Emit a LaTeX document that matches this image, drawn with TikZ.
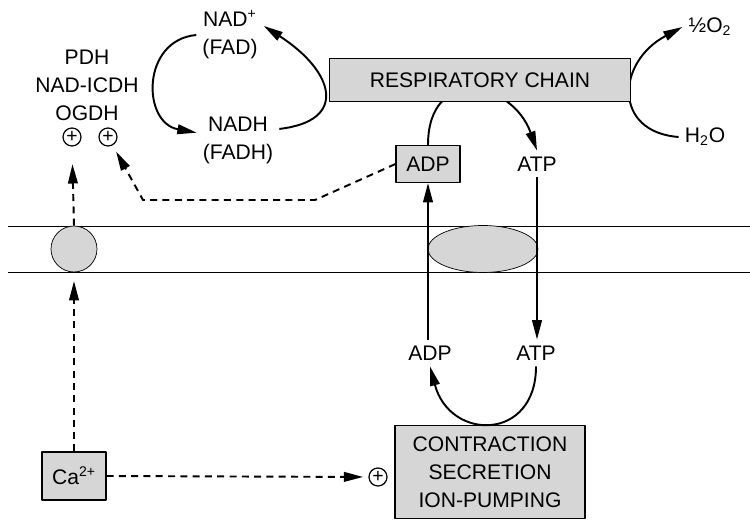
\documentclass[tikz,border=0pt]{standalone}
\usepackage{fontspec}
\setmainfont{Liberation Sans}
\usetikzlibrary{arrows.meta,shapes.geometric}
\begin{document}
\begin{tikzpicture}[x=0.02cm, y=0.02cm, font=\fontsize{12}{16}\selectfont, line join=round, >={Triangle[length=11pt,width=5.5pt]},
		arr/.style={->, line width=1.1pt},
		dsh/.style={->, line width=1.1pt, dash pattern=on 4pt off 3pt},
		grey/.style={draw, line width=0.6pt, fill=black!16},
		plus/.style={circle, draw, line width=0.7pt, inner sep=0pt, minimum size=0.36cm, font=\fontsize{11}{11}\selectfont}]
		\useasboundingbox (0,0) rectangle (750,520);
		% membrane
		\draw[thin] (8,294) -- (750,294) (8,248) -- (750,248);
		\node[grey, thin, circle, minimum size=0.92cm] (chan) at (74,271) {};
		\node[grey, thin, ellipse, minimum width=2.2cm, minimum height=0.94cm] (carrier) at (483,271) {};
		% labels
		\node[align=center] (enz) at (87,435) {PDH\\NAD-ICDH\\OGDH};
		\node[align=center] (nad) at (230,485) {NAD\textsuperscript{+}\\(FAD)};
		\node[align=center] (nadh) at (238,380) {NADH\\(FADH)};
		\node (o2) at (710,493) {½O\textsubscript{2}};
		\node (h2o) at (705,383) {H\textsubscript{2}O};
		\node[grey, minimum width=1.28cm, minimum height=0.74cm] (adp) at (428,356) {ADP};
		\node (atp) at (537,356) {ATP};
		\node (adp2) at (430,167) {ADP};
		\node (atp2) at (536,167) {ATP};
		\node[grey, align=center, minimum width=3.8cm, minimum height=1.86cm] (work) at (490,48) {CONTRACTION\\SECRETION\\ION-PUMPING};
		\node[grey, minimum width=1.28cm, minimum height=0.96cm] (ca) at (74,44) {Ca\textsuperscript{2+}};
		\foreach \n/\p in {p1/{(72,383)},p2/{(108,383)},p3/{(378,43)}}
		\node[plus] (\n) at \p {+};
		\path (315,320) coordinate (k1) (143,320) coordinate (k2);
		% cycles
		\draw[arr] (nad.west) .. controls +(-55,-5) and +(-55,10) .. (nadh.170);
		\draw[arr] (nadh.15) .. controls +(70,8) and +(70,-45) .. (nad.15);
		\draw[arr] (adp.north) .. controls +(0,80) and +(-25,70) .. (atp.north);
		\draw[arr] (h2o.west) .. controls +(-66,5) and +(-66,-35) .. (o2.west);
		\node[grey, minimum width=6.02cm, minimum height=0.86cm] (rc) at (480,440) {RESPIRATORY CHAIN};
		\draw[arr] (adp2.north -| adp.south) -- (adp.south);
		\draw[arr] (atp.south) -- (atp.south |- atp2.north);
		\draw[arr] (atp2.south) .. controls +(0,-75) and +(20,-75) .. (adp2.south);
		% calcium
		\draw[dsh, shorten >=5pt] (ca.north) -- (chan.south);
		\draw[dsh, shorten >=10pt] (chan.north) -- (p1.south);
		\draw[dsh, shorten >=3pt] (ca.east) -- (p3.west);
		\draw[dsh, shorten >=4pt] (adp.west) -- (k1) -- (k2) -- (p2);
\end{tikzpicture}
\end{document}
